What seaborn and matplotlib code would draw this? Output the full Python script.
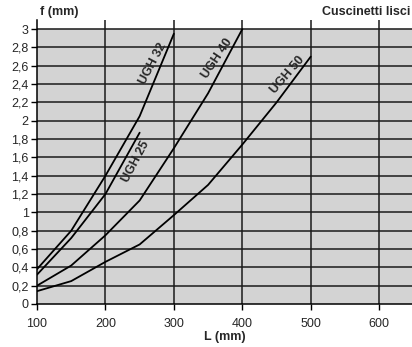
import pandas as pd
import seaborn as sns
import matplotlib.pyplot as plt

# deflection f (mm) vs length L (mm)
L_32 = [100, 150, 200, 250, 300]
f_32 = [0.38, 0.80, 1.40, 2.05, 2.95]
L_25 = [100, 150, 200, 250]
f_25 = [0.32, 0.72, 1.20, 1.87]
L_40 = [100, 150, 200, 250, 300, 350, 400]
f_40 = [0.20, 0.42, 0.75, 1.13, 1.70, 2.30, 3.00]
L_50 = [100, 150, 200, 250, 300, 350, 400, 450, 500]
f_50 = [0.14, 0.25, 0.46, 0.65, 0.97, 1.30, 1.74, 2.20, 2.70]

series = ["UGH 32", "UGH 25", "UGH 40", "UGH 50"]
x_ticks = [100, 200, 300, 400, 500, 600]
y_ticks = [0, 0.2, 0.4, 0.6, 0.8, 1, 1.2, 1.4, 1.6, 1.8, 2, 2.2, 2.4, 2.6, 2.8, 3]
y_ticklabels = [f"{v:g}".replace(".", ",") for v in y_ticks]

# label placement (L, f, rotation)
label_pos = {
    "UGH 32": (269, 2.62, 62),
    "UGH 25": (244, 1.55, 62),
    "UGH 40": (364, 2.68, 56),
    "UGH 50": (466, 2.50, 49),
}

df = pd.concat([
    pd.DataFrame({"L": L_32, "f": f_32, "serie": "UGH 32"}),
    pd.DataFrame({"L": L_25, "f": f_25, "serie": "UGH 25"}),
    pd.DataFrame({"L": L_40, "f": f_40, "serie": "UGH 40"}),
    pd.DataFrame({"L": L_50, "f": f_50, "serie": "UGH 50"}),
])

sns.set_style("white")
plt.rcParams["font.family"] = ["Liberation Sans", "DejaVu Sans"]

fig = plt.figure(figsize=(4.12, 3.47), dpi=100)
ax = fig.add_axes([37 / 412, 1 - 304 / 347, 1 - 37 / 412, 284 / 347])

ax.axhspan(0, 3, color="#d3d3d3", zorder=0)
for y in y_ticks[1:]:
    ax.axhline(y, color="#1a1a1a", lw=1.1, zorder=1)
for x in x_ticks[1:]:
    ax.axvline(x, color="#1a1a1a", lw=1.1, zorder=1)

for s in series:
    sub = df[df["serie"] == s]
    sns.lineplot(data=sub, x="L", y="f", color="black", lw=1.3, ax=ax,
                 estimator=None, sort=False, zorder=3)
    lx, ly, rot = label_pos[s]
    ax.text(lx, ly, s, rotation=rot, ha="center", va="center",
            fontsize=9, fontweight="bold", zorder=4)

ax.set_xlim(100, 648)
ax.set_ylim(0, 3.1)
ax.set_xticks(x_ticks)
ax.set_yticks(y_ticks)
ax.set_yticklabels(y_ticklabels)
ax.tick_params(axis="both", labelsize=9, length=4, width=1, color="black",
               direction="out", left=True, bottom=True, pad=2)
ax.tick_params(axis="x", pad=6)

for side in ["top", "right"]:
    ax.spines[side].set_visible(False)
for side in ["left", "bottom"]:
    ax.spines[side].set_color("black")
    ax.spines[side].set_linewidth(1.1)

ax.set_xlabel("")
ax.set_ylabel("")
fig.text(40 / 412, 1 - 12 / 347, "f (mm)", fontsize=9, fontweight="bold",
         ha="left", va="center")
fig.text(410 / 412, 1 - 12 / 347, "Cuscinetti lisci", fontsize=9,
         fontweight="bold", ha="right", va="center")
fig.text(225 / 412, 1 - 337 / 347, "L (mm)", fontsize=9, fontweight="bold",
         ha="center", va="center")

fig.savefig("out.png", dpi=100)
